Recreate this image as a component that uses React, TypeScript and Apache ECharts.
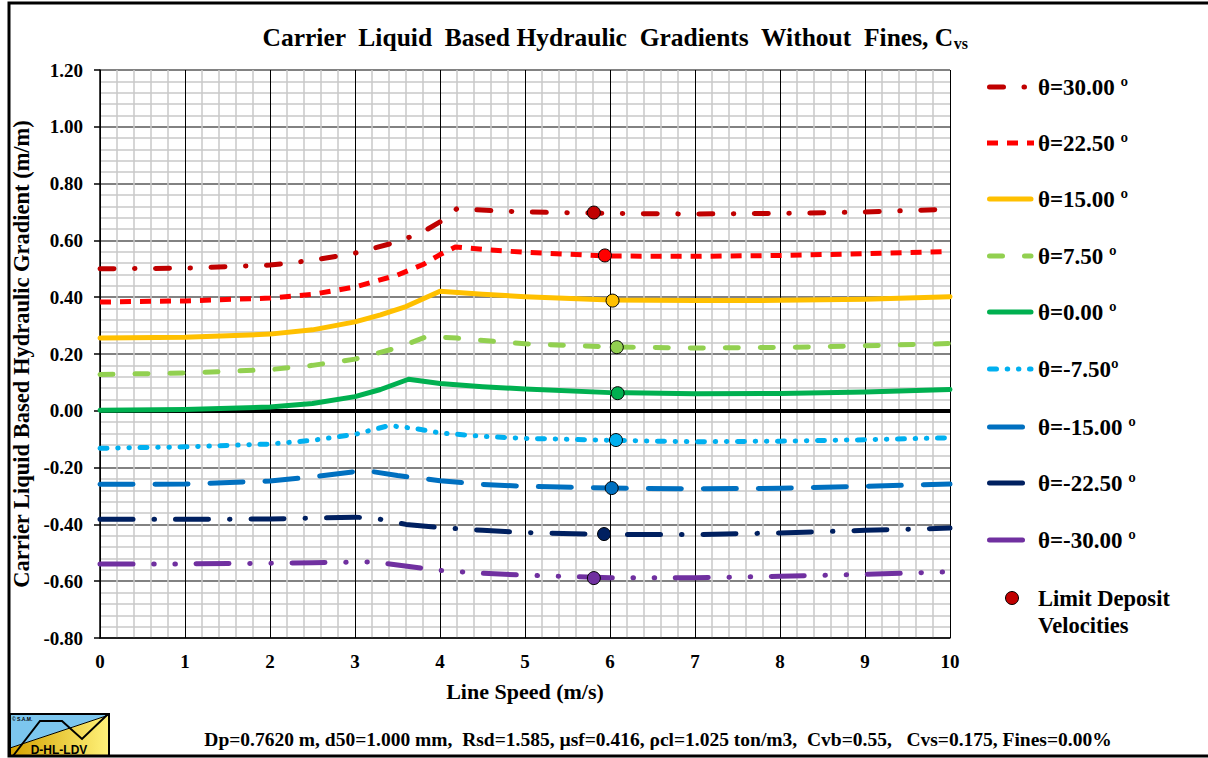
import React, { useEffect, useRef } from "react";
import * as echarts from "echarts";

// ---------- DATA ----------
const SERIES_NAMES = [
  "θ=30.00 º",
  "θ=22.50 º",
  "θ=15.00 º",
  "θ=7.50 º",
  "θ=0.00 º",
  "θ=-7.50º",
  "θ=-15.00 º",
  "θ=-22.50 º",
  "θ=-30.00 º",
];

const T_P30 = [[0, 0.5], [1, 0.502], [2, 0.513], [2.5, 0.53], [3, 0.555], [3.5, 0.595], [3.8, 0.63], [4, 0.665], [4.2, 0.712], [4.6, 0.705], [5, 0.7], [6, 0.695], [7, 0.693], [8, 0.695], [9, 0.7], [10, 0.71]];
const T_P22 = [[0, 0.383], [1, 0.387], [2, 0.397], [2.5, 0.41], [3, 0.436], [3.5, 0.478], [3.8, 0.515], [4, 0.55], [4.18, 0.577], [4.6, 0.566], [5, 0.558], [6, 0.545], [7, 0.544], [8, 0.547], [9, 0.553], [10, 0.561]];
const T_P15 = [[0, 0.256], [1, 0.259], [2, 0.27], [2.5, 0.285], [3, 0.313], [3.3, 0.338], [3.6, 0.367], [4, 0.421], [4.5, 0.41], [5, 0.402], [6, 0.39], [7, 0.388], [8, 0.389], [9, 0.393], [10, 0.402]];
const T_P7 = [[0, 0.128], [1, 0.133], [2, 0.145], [2.5, 0.16], [3, 0.182], [3.5, 0.222], [3.85, 0.262], [4.2, 0.256], [4.7, 0.243], [5, 0.236], [6, 0.225], [7, 0.221], [8, 0.223], [9, 0.229], [10, 0.237]];
const T_0 = [[0, 0.002], [1, 0.005], [2, 0.013], [2.5, 0.026], [3, 0.05], [3.3, 0.075], [3.63, 0.111], [4, 0.096], [4.5, 0.085], [5, 0.077], [6, 0.064], [7, 0.06], [8, 0.061], [9, 0.066], [10, 0.075]];
const T_M7 = [[0, -0.132], [1, -0.127], [2, -0.117], [2.5, -0.104], [3, -0.083], [3.4, -0.052], [3.7, -0.062], [4, -0.078], [4.5, -0.09], [5, -0.097], [6, -0.104], [7, -0.109], [8, -0.107], [9, -0.102], [10, -0.095]];
const T_M15 = [[0, -0.259], [1, -0.258], [2, -0.247], [2.5, -0.233], [3, -0.214], [3.1, -0.209], [3.5, -0.228], [4, -0.246], [4.5, -0.259], [5, -0.266], [6, -0.272], [7, -0.275], [8, -0.273], [9, -0.266], [10, -0.258]];
const T_M22 = [[0, -0.382], [1, -0.382], [2, -0.381], [2.5, -0.378], [3, -0.375], [3.2, -0.376], [3.6, -0.4], [4, -0.411], [4.5, -0.421], [5, -0.429], [6, -0.436], [7, -0.436], [8, -0.43], [9, -0.421], [10, -0.413]];
const T_M30 = [[0, -0.539], [1, -0.539], [2, -0.537], [2.5, -0.535], [3, -0.533], [3.2, -0.532], [3.5, -0.543], [4, -0.562], [4.5, -0.572], [5, -0.579], [6, -0.588], [7, -0.588], [8, -0.583], [9, -0.576], [10, -0.567]];

const SERIES_DATA = [T_P30, T_P22, T_P15, T_P7, T_0, T_M7, T_M15, T_M22, T_M30];

const LDV_SPEED = [5.81, 5.94, 6.03, 6.08, 6.09, 6.07, 6.02, 5.93, 5.81];
const LDV_GRAD = [0.698, 0.547, 0.388, 0.224, 0.062, -0.103, -0.272, -0.434, -0.589];

const TITLE_MAIN = "Carrier  Liquid  Based Hydraulic  Gradients  Without  Fines, C";
const TITLE_SUB = "vs";
const X_NAME = "Line Speed (m/s)";
const Y_NAME = "Carrier Liquid Based Hydraulic Gradient (m/m)";
const FOOTER = "Dp=0.7620 m, d50=1.000 mm,  Rsd=1.585, µsf=0.416, ρcl=1.025 ton/m3,  Cvb=0.55,   Cvs=0.175, Fines=0.00%";
const LDV_LABEL = "Limit Deposit\nVelocities";

// ---------- STYLES ----------
const COLORS = ["#C00000", "#FF0000", "#FFC000", "#92D050", "#00B050", "#00B0F0", "#0070C0", "#002060", "#7030A0"];
const DASHES: (number[] | null)[] = [
  [14, 20.5, 0.5, 20.5],
  [11, 9],
  null,
  [13, 22],
  null,
  [7, 10.7, 0.5, 10.7, 0.5, 10.6],
  [33, 22],
  [33, 21, 0.5, 21],
  [33, 20.7, 0.5, 20.7, 0.5, 20.6],
];
const CAPS = ["round", "butt", "round", "round", "round", "round", "round", "round", "round"];
const LEGEND_Y = [87, 143, 199, 256, 312, 369, 427, 483, 540];
const SERIF = "'Liberation Serif', 'Times New Roman', serif";

export default function App() {
  const ref = useRef<HTMLDivElement>(null);
  useEffect(() => {
    document.body.style.margin = "0";
    if (!ref.current) return;
    const chart = echarts.init(ref.current, null, { renderer: "svg" });

    const lineSeries = SERIES_NAMES.map((name, i) => ({
      name,
      type: "line",
      data: SERIES_DATA[i],
      showSymbol: false,
      symbol: "none",
      smooth: false,
      z: 3,
      lineStyle: {
        color: COLORS[i],
        width: 5,
        type: DASHES[i] ? DASHES[i] : "solid",
        cap: CAPS[i],
        join: "round",
      },
      ...(i === 0
        ? {
            markLine: {
              silent: true,
              symbol: ["none", "none"],
              label: { show: false },
              lineStyle: { color: "#000", width: 4, type: "solid" },
              data: [{ yAxis: 0 }],
              z: 2,
            },
          }
        : {}),
    }));

    const ldvSeries = {
      name: "Limit Deposit Velocities",
      type: "scatter",
      z: 5,
      symbolSize: 13,
      data: LDV_SPEED.map((s, i) => ({
        value: [s, LDV_GRAD[i]],
        itemStyle: { color: COLORS[i], borderColor: "#000", borderWidth: 1, opacity: 1 },
      })),
    };

    const legendGraphics: any[] = [];
    SERIES_NAMES.forEach((name, i) => {
      const butt = CAPS[i] === "butt";
      legendGraphics.push({
        type: "line",
        shape: { x1: butt ? 987 : 989.5, y1: LEGEND_Y[i], x2: butt ? 1034 : 1031, y2: LEGEND_Y[i] },
        style: {
          stroke: COLORS[i],
          lineWidth: 5,
          lineDash: DASHES[i] ? DASHES[i] : null,
          lineCap: CAPS[i],
        },
      });
      legendGraphics.push({
        type: "text",
        x: 1038,
        y: LEGEND_Y[i],
        style: {
          text: name,
          font: `bold 23px ${SERIF}`,
          fill: "#000",
          align: "left",
          verticalAlign: "middle",
          textAlign: "left",
          textVerticalAlign: "middle",
        },
      });
    });
    legendGraphics.push({
      type: "circle",
      shape: { cx: 1012, cy: 598, r: 6.5 },
      style: { fill: "#C00000", stroke: "#000", lineWidth: 1 },
    });
    legendGraphics.push({
      type: "text",
      x: 1038,
      y: 585,
      style: {
        text: LDV_LABEL,
        font: `bold 22.5px ${SERIF}`,
        lineHeight: 27,
        fill: "#000",
        align: "left",
        verticalAlign: "top",
        textAlign: "left",
        textVerticalAlign: "top",
      },
    });

    const logo = {
      type: "group",
      children: [
        {
          type: "polygon",
          shape: { points: [[10, 714], [109, 714], [109, 715], [10, 748]] },
          style: { fill: "#7CC6EE" },
        },
        {
          type: "polygon",
          shape: { points: [[10, 748], [109, 715], [109, 756], [10, 756]] },
          style: {
            fill: new echarts.graphic.LinearGradient(0, 0, 1, 0, [
              { offset: 0, color: "#D4A200" },
              { offset: 1, color: "#FFF27A" },
            ]),
          },
        },
        {
          type: "line",
          shape: { x1: 10, y1: 748, x2: 109, y2: 715 },
          style: { stroke: "#000", lineWidth: 1 },
        },
        {
          type: "polyline",
          shape: { points: [[13, 756], [40, 721], [62, 721], [82, 739], [107, 715]] },
          style: { stroke: "#000", lineWidth: 2, fill: null },
        },
        {
          type: "rect",
          shape: { x: 10, y: 714, width: 99, height: 42 },
          style: { fill: null, stroke: "#000", lineWidth: 2 },
        },
        {
          type: "text",
          x: 12,
          y: 719,
          style: { text: "© S.A.M.", font: "bold 5px 'Liberation Sans', Arial, sans-serif", fill: "#000", align: "left", verticalAlign: "middle", textAlign: "left", textVerticalAlign: "middle" },
        },
        {
          type: "text",
          x: 59,
          y: 750,
          style: { text: "D-HL-LDV", font: "bold 12px 'Liberation Sans', Arial, sans-serif", fill: "#000", align: "center", verticalAlign: "middle", textAlign: "center", textVerticalAlign: "middle" },
        },
      ],
    };

    const option: any = {
      animation: false,
      backgroundColor: "#fff",
      title: {
        text: `{t|${TITLE_MAIN}}{s|${TITLE_SUB}}`,
        left: 610,
        top: 16,
        textAlign: "center",
        textStyle: {
          rich: {
            t: { fontFamily: SERIF, fontWeight: "bold", fontSize: 25.5, color: "#000", lineHeight: 32 },
            s: { fontFamily: SERIF, fontWeight: "bold", fontSize: 16, color: "#000", verticalAlign: "bottom", lineHeight: 32, padding: [0, 0, 2, 0] },
          },
        },
      },
      grid: { left: 100, top: 70, width: 850, height: 568, containLabel: false },
      xAxis: {
        type: "value",
        min: 0,
        max: 10,
        interval: 1,
        name: X_NAME,
        nameLocation: "middle",
        nameGap: 42,
        nameTextStyle: { fontFamily: SERIF, fontWeight: "bold", fontSize: 22, color: "#000" },
        axisLine: { onZero: false, lineStyle: { color: "#000", width: 1.5 } },
        axisTick: { show: false },
        axisLabel: { fontFamily: SERIF, fontWeight: "bold", fontSize: 19, color: "#000", margin: 14 },
        splitLine: { show: true, lineStyle: { color: "#000", width: 1 } },
        minorTick: { show: false, splitNumber: 5 },
        minorSplitLine: { show: true, lineStyle: { color: "#c8c8c8", width: 1.5 } },
      },
      yAxis: {
        type: "value",
        min: -0.8,
        max: 1.2,
        interval: 0.2,
        name: Y_NAME,
        nameLocation: "middle",
        nameGap: 64,
        nameTextStyle: { fontFamily: SERIF, fontWeight: "bold", fontSize: 22.5, color: "#000" },
        axisLine: { show: true, onZero: false, lineStyle: { color: "#000", width: 1.5 } },
        axisTick: { show: true, length: 6, lineStyle: { color: "#000", width: 1.5 } },
        axisLabel: {
          fontFamily: SERIF,
          fontWeight: "bold",
          fontSize: 19,
          color: "#000",
          margin: 17,
          formatter: (v: number) => (Math.abs(v) < 1e-9 ? "0.00" : v.toFixed(2)),
        },
        splitLine: { show: true, lineStyle: { color: "#595959", width: 1.5 } },
        minorTick: { show: false, splitNumber: 5 },
        minorSplitLine: { show: true, lineStyle: { color: "#c8c8c8", width: 1.5 } },
      },
      series: [...lineSeries, ldvSeries],
      graphic: [
        ...legendGraphics,
        {
          type: "text",
          x: 658,
          y: 739,
          style: {
            text: FOOTER,
            font: `bold 19.5px ${SERIF}`,
            fill: "#000",
            align: "center",
            verticalAlign: "middle",
            textAlign: "center",
            textVerticalAlign: "middle",
          },
        },
        logo,
        {
          type: "rect",
          z: 100,
          shape: { x: 9, y: 3, width: 1212, height: 753 },
          style: { fill: null, stroke: "#000", lineWidth: 3 },
        },
      ],
    };
    chart.setOption(option);
    return () => chart.dispose();
  }, []);
  return <div ref={ref} style={{ width: 1208, height: 758 }} />;
}
